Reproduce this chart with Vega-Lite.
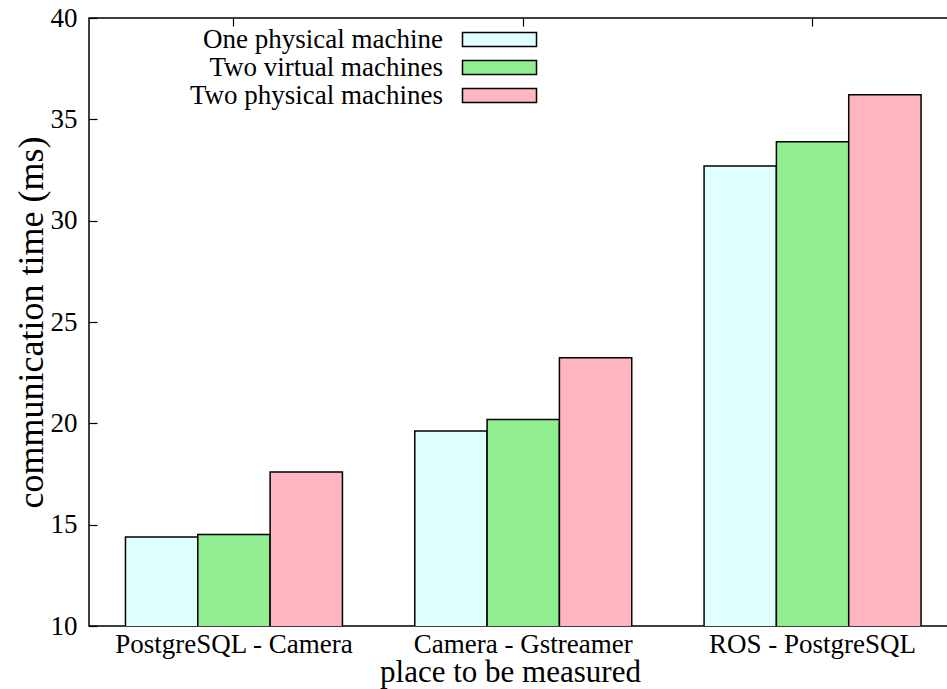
{
  "$schema": "https://vega.github.io/schema/vega-lite/v6.json",
  "autosize": {"type": "none"},
  "padding": {"left": 89, "top": 18, "right": 0, "bottom": 63},
  "width": 859,
  "height": 608,
  "background": "white",
  "config": {
    "font": "Liberation Serif",
    "view": {"stroke": "black", "strokeWidth": 1.5},
    "axis": {"grid": false, "domain": false, "labelColor": "black", "titleColor": "black", "tickColor": "black", "tickWidth": 1.2, "labelFont": "Liberation Serif", "titleFont": "Liberation Serif", "titleFontWeight": "normal", "labelLimit": 0}
  },
  "data": {
    "values": [
      {"place": "PostgreSQL - Camera", "setup": "One physical machine", "time": 14.39},
      {"place": "PostgreSQL - Camera", "setup": "Two virtual machines", "time": 14.51},
      {"place": "PostgreSQL - Camera", "setup": "Two physical machines", "time": 17.6},
      {"place": "Camera - Gstreamer", "setup": "One physical machine", "time": 19.62},
      {"place": "Camera - Gstreamer", "setup": "Two virtual machines", "time": 20.19},
      {"place": "Camera - Gstreamer", "setup": "Two physical machines", "time": 23.23},
      {"place": "ROS - PostgreSQL", "setup": "One physical machine", "time": 32.7},
      {"place": "ROS - PostgreSQL", "setup": "Two virtual machines", "time": 33.89},
      {"place": "ROS - PostgreSQL", "setup": "Two physical machines", "time": 36.21}
    ]
  },
  "layer": [
    {
      "mark": {"type": "bar", "stroke": "black", "strokeWidth": 1.5, "opacity": 1, "clip": true},
      "encoding": {
        "x": {
          "field": "place", "type": "nominal",
          "scale": {"domain": ["PostgreSQL - Camera", "Camera - Gstreamer", "ROS - PostgreSQL"], "paddingInner": 0.25, "paddingOuter": 0.1096, "align": 0.575},
          "axis": {"orient": "bottom", "labelAngle": 0, "labelFontSize": 27, "labelLimit": 0, "ticks": false, "labelPadding": 5, "title": "place to be measured", "titleFontSize": 31, "titleX": 421, "titleY": 55, "titleBaseline": "alphabetic", "titleAlign": "center", "titleAnchor": "start"}
        },
        "xOffset": {"field": "setup", "type": "nominal", "scale": {"domain": ["One physical machine", "Two virtual machines", "Two physical machines"], "paddingInner": 0, "paddingOuter": 0}},
        "y": {
          "field": "time", "type": "quantitative",
          "scale": {"domain": [10, 40], "nice": false, "zero": false},
          "axis": {"orient": "left", "values": [10, 15, 20, 25, 30, 35, 40], "tickSize": -8, "labelFontSize": 27, "labelPadding": 20, "title": "communication time (ms)", "titleFontSize": 36, "titleX": -47, "titleY": 304, "titleAngle": -90, "titleBaseline": "alphabetic", "titleAlign": "center", "titleAnchor": "start"}
        },
        "color": {
          "field": "setup", "type": "nominal",
          "scale": {"domain": ["One physical machine", "Two virtual machines", "Two physical machines"], "range": ["#e0ffff", "#90ee90", "#ffb6c1"]},
          "legend": {
            "orient": "none", "legendX": 397, "legendY": 8, "title": null, "padding": 0,
            "symbolType": "M-5.286,-1H5.286V1H-5.286Z", "symbolSize": 196, "symbolStrokeColor": "black", "symbolStrokeWidth": 1.5, "symbolOpacity": 1,
            "labelFont": "Liberation Serif", "labelFontSize": 27, "labelColor": "black", "labelAlign": "right", "labelOffset": -70, "labelLimit": 0,
            "rowPadding": 0
          }
        }
      }
    },
    {
      "mark": {"type": "point", "opacity": 0},
      "encoding": {
        "x": {"field": "place", "type": "nominal", "axis": {"orient": "top", "labels": false, "title": null, "tickSize": -8, "ticks": true}},
        "y": {"field": "time", "type": "quantitative"}
      }
    }
  ],
  "resolve": {"axis": {"x": "independent"}}
}
